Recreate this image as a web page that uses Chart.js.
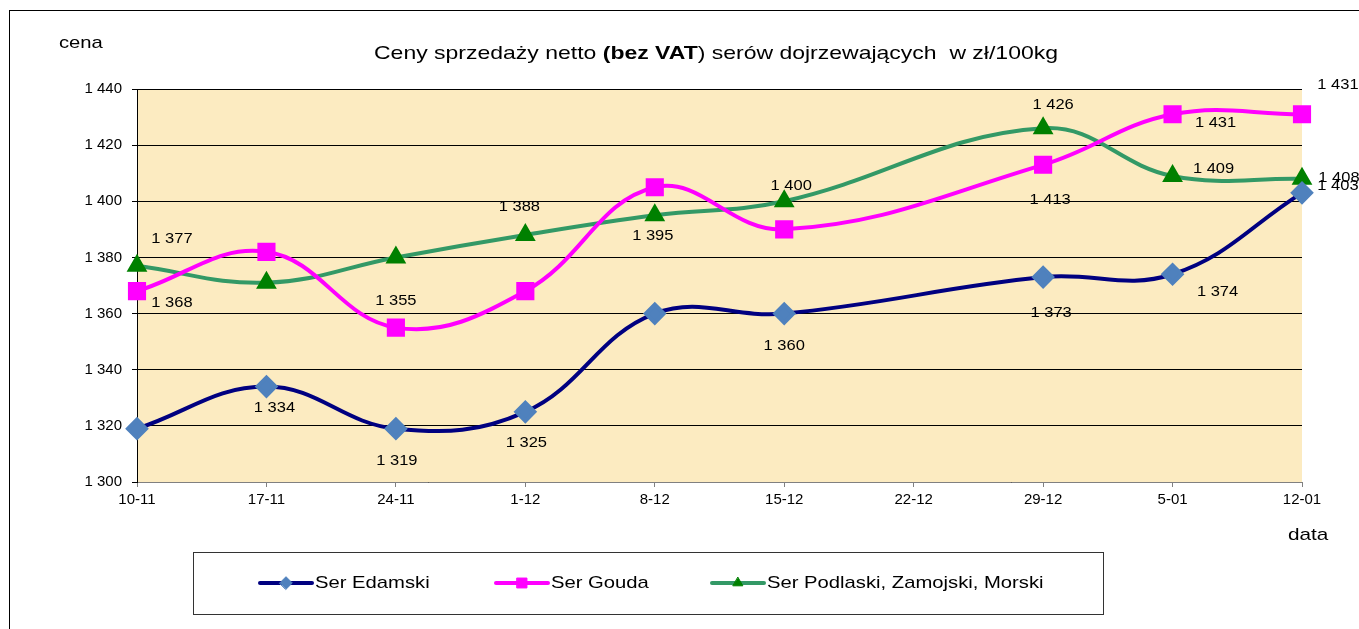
<!DOCTYPE html>
<html>
<head>
<meta charset="utf-8">
<script src="https://cdn.jsdelivr.net/npm/chart.js@4.4.1/dist/chart.umd.min.js"></script>
<style>
  html, body { margin: 0; padding: 0; background: #ffffff; }
  canvas { display: block; }
</style>
</head>
<body>
<canvas id="c" width="1359" height="629"></canvas>
<script>
// ---- data ----
const categories = ['10-11', '17-11', '24-11', '1-12', '8-12', '15-12', '22-12', '29-12', '5-01', '12-01'];
const edamski  = [1319, 1334, 1319, 1325, 1360, 1360, null, 1373, 1374, 1403];
const gouda    = [1368, 1382, 1355, 1368, 1405, 1390, null, 1413, 1431, 1431];
const podlaski = [1377, 1371, 1380, 1388, 1395, 1400, null, 1426, 1409, 1408];
const seriesNames = ['Ser Edamski', 'Ser Gouda', 'Ser Podlaski, Zamojski, Morski'];
const yTicks = [1300, 1320, 1340, 1360, 1380, 1400, 1420, 1440];

const FONT = '"Liberation Sans", Arial, sans-serif';
const fmt = v => String(v).replace(/\B(?=(\d{3})+(?!\d))/g, ' ');

// label placement offsets (dx, dy) from point, null = no label
const labelPlacement = [
  [null, [8, 21], [1, 32], [1, 31], null, [0, 32], null, [8, 36], [45, 18], [36, -7]],
  [[35, 12], null, [0, -27], null, null, null, null, [7, 35], [43, 9], [36, -29]],
  [[35, -27], null, null, [-6, -28], [-2, 21], [7, -15], null, [10, -23], [41, -7], [37, -1]]
];

// draw text stretched horizontally by sx, anchored at x (left)
function stretchText(ctx, text, x, y, sx) {
  ctx.save();
  ctx.translate(x, y);
  ctx.scale(sx, 1);
  ctx.fillText(text, 0, 0);
  ctx.restore();
}

const bgPlugin = {
  id: 'bg',
  beforeDraw(chart) {
    const { ctx, chartArea: a } = chart;
    ctx.save();
    ctx.fillStyle = '#FCEBC1';
    ctx.fillRect(a.left, a.top, a.right - a.left, a.bottom - a.top);
    ctx.restore();
  }
};

function drawMarker(ctx, style, r, x, y, fill, stroke) {
  ctx.save();
  ctx.fillStyle = fill;
  ctx.strokeStyle = stroke;
  ctx.lineWidth = 1;
  if (Chart.helpers && Chart.helpers.drawPoint) {
    Chart.helpers.drawPoint(ctx, { pointStyle: style, radius: r, rotation: 0, borderWidth: 1 }, x, y);
  }
  ctx.restore();
}

const decoPlugin = {
  id: 'deco',
  afterDatasetsDraw(chart) {
    const ctx = chart.ctx;
    // data labels
    ctx.save();
    ctx.font = '15px ' + FONT;
    ctx.fillStyle = '#000';
    ctx.textAlign = 'left';
    ctx.textBaseline = 'middle';
    const sx = 1.1;
    chart.data.datasets.forEach((ds, di) => {
      const meta = chart.getDatasetMeta(di);
      ds.data.forEach((v, i) => {
        const p = labelPlacement[di][i];
        if (v == null || !p) return;
        const el = meta.data[i];
        const t = fmt(v);
        const w = ctx.measureText(t).width * sx;
        stretchText(ctx, t, el.x + p[0] - w / 2, el.y + p[1], sx);
      });
    });
    ctx.restore();
  },
  afterDraw(chart) {
    const ctx = chart.ctx;
    ctx.save();
    // outer frame
    ctx.strokeStyle = '#000';
    ctx.lineWidth = 1;
    ctx.strokeRect(9.5, 10.5, 2000, 2000);

    // title with bold part
    const parts = [
      { t: 'Ceny sprzedaży netto ', b: false },
      { t: '(bez VAT', b: true },
      { t: ') serów dojrzewających  w zł/100kg', b: false }
    ];
    const size = 19;
    let total = 0;
    parts.forEach(p => {
      ctx.font = (p.b ? 'bold ' : '') + size + 'px ' + FONT;
      p.w = ctx.measureText(p.t).width;
      total += p.w;
    });
    const tsx = 684 / total;
    let x = 374;
    ctx.fillStyle = '#000';
    ctx.textBaseline = 'alphabetic';
    ctx.textAlign = 'left';
    parts.forEach(p => {
      ctx.font = (p.b ? 'bold ' : '') + size + 'px ' + FONT;
      stretchText(ctx, p.t, x, 59, tsx);
      x += p.w * tsx;
    });

    // axis names
    ctx.font = '17px ' + FONT;
    stretchText(ctx, 'cena', 59, 48, 1.19);
    stretchText(ctx, 'data', 1288, 540, 1.22);

    // legend box
    ctx.strokeStyle = '#333';
    ctx.strokeRect(193.5, 552.5, 910, 62);
    const legX = [260, 496, 712];
    const ly = 583;
    chart.data.datasets.forEach((ds, di) => {
      const x0 = legX[di];
      ctx.strokeStyle = ds.borderColor;
      ctx.lineWidth = 4;
      ctx.lineCap = 'round';
      ctx.beginPath();
      ctx.moveTo(x0, ly);
      ctx.lineTo(x0 + 52, ly);
      ctx.stroke();
      drawMarker(ctx, ds.pointStyle, ds.pointRadius * 0.7, x0 + 26, ly, ds.pointBackgroundColor, ds.pointBorderColor);
      ctx.fillStyle = '#000';
      ctx.font = '17px ' + FONT;
      ctx.textBaseline = 'middle';
      stretchText(ctx, seriesNames[di], x0 + 55, ly, 1.19);
    });
    ctx.restore();
  }
};

new Chart(document.getElementById('c'), {
  type: 'line',
  data: {
    labels: categories,
    datasets: [
      {
        label: seriesNames[0], data: edamski,
        borderColor: '#000080', borderWidth: 4,
        pointStyle: 'rectRot', pointRadius: 9,
        pointBackgroundColor: '#4F81BD', pointBorderColor: '#4F81BD',
        tension: 0.4, spanGaps: true, clip: false
      },
      {
        label: seriesNames[1], data: gouda,
        borderColor: '#FF00FF', borderWidth: 4,
        pointStyle: 'rect', pointRadius: 10,
        pointBackgroundColor: '#FF00FF', pointBorderColor: '#FF00FF',
        tension: 0.4, spanGaps: true, clip: false
      },
      {
        label: seriesNames[2], data: podlaski,
        borderColor: '#339966', borderWidth: 4,
        pointStyle: 'triangle', pointRadius: 8,
        pointBackgroundColor: '#008000', pointBorderColor: '#008000',
        tension: 0.4, spanGaps: true, clip: false
      }
    ]
  },
  options: {
    responsive: false,
    animation: false,
    layout: { padding: { left: 0, right: 57, top: 89, bottom: 117 } },
    plugins: {
      legend: { display: false },
      title: { display: false },
      tooltip: { enabled: false }
    },
    scales: {
      x: {
        offset: false,
        grid: { display: true, drawOnChartArea: false, tickLength: 5, color: '#808080' },
        border: { color: '#808080', width: 1 },
        ticks: { color: '#000', font: { family: FONT, size: 15 }, padding: 4, maxRotation: 0, autoSkip: false },
        afterFit(s) { s.height = 30; }
      },
      y: {
        min: 1300, max: 1440,
        afterBuildTicks(s) { s.ticks = yTicks.map(v => ({ value: v })); },
        grid: { color: '#000', lineWidth: 1, tickLength: 5 },
        border: { color: '#000', width: 1 },
        ticks: { color: '#000', font: { family: FONT, size: 15 }, padding: 10, callback: v => fmt(v) },
        afterFit(s) { s.width = 137; }
      }
    }
  },
  plugins: [bgPlugin, decoPlugin]
});
</script>
</body>
</html>
